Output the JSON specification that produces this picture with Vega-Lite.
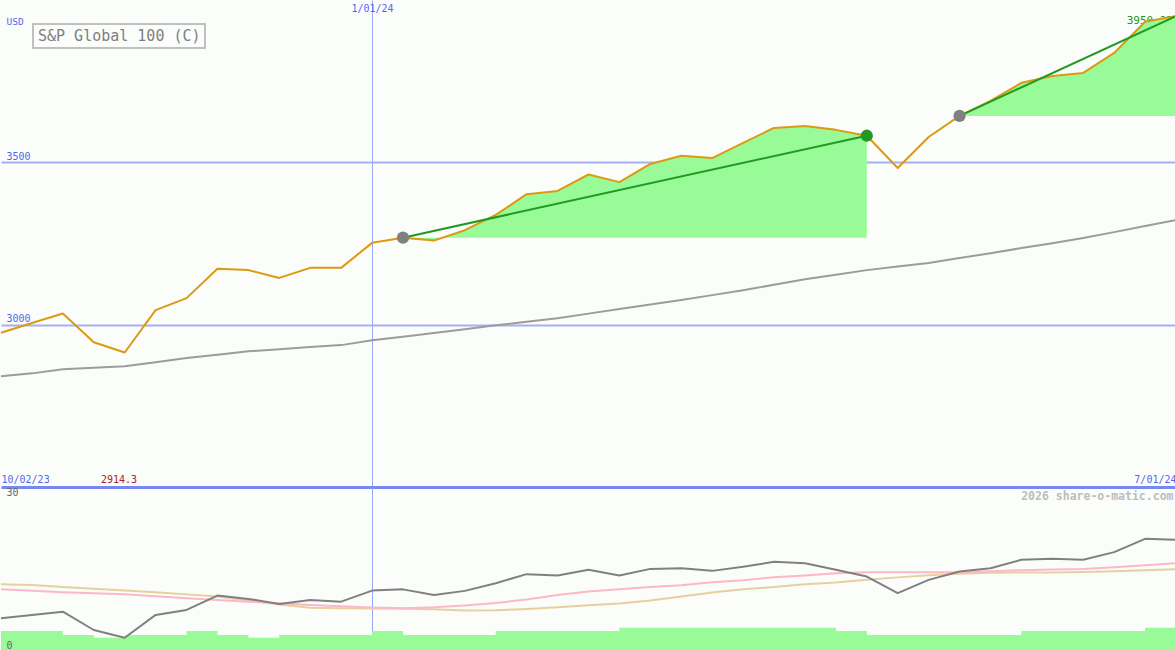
{
  "$schema": "https://vega.github.io/schema/vega-lite/v6.json",
  "background": "#fbfdfb",
  "padding": 0,
  "spacing": 0,
  "config": {
    "view": {"stroke": null},
    "concat": {"spacing": 0},
    "line": {"strokeJoin": "round", "clip": true},
    "axis": {"labelFont": "DejaVu Sans Mono", "titleFont": "DejaVu Sans Mono", "labelFontSize": 10, "titleFontSize": 10, "titleFontWeight": "normal"},
    "legend": {"labelFont": "DejaVu Sans Mono", "strokeColor": "#c0c0c0", "strokeWidth": 2}
  },
  "datasets": {
    "px": [
      {"i": 0, "close": 2975, "ma": 2841},
      {"i": 1, "close": 3005, "ma": 2850},
      {"i": 2, "close": 3034.5, "ma": 2863},
      {"i": 3, "close": 2946, "ma": 2867},
      {"i": 4, "close": 2914.3, "ma": 2872},
      {"i": 5, "close": 3044.7, "ma": 2884},
      {"i": 6, "close": 3081.7, "ma": 2897},
      {"i": 7, "close": 3172, "ma": 2907},
      {"i": 8, "close": 3168, "ma": 2918},
      {"i": 9, "close": 3144, "ma": 2924},
      {"i": 10, "close": 3175, "ma": 2931},
      {"i": 11, "close": 3175, "ma": 2937},
      {"i": 12, "close": 3252, "ma": 2952},
      {"i": 13, "close": 3268, "ma": 2963},
      {"i": 14, "close": 3259, "ma": 2974},
      {"i": 15, "close": 3291, "ma": 2986},
      {"i": 16, "close": 3338, "ma": 2998},
      {"i": 17, "close": 3402, "ma": 3009},
      {"i": 18, "close": 3412, "ma": 3020},
      {"i": 19, "close": 3462.5, "ma": 3034},
      {"i": 20, "close": 3439, "ma": 3048},
      {"i": 21, "close": 3495, "ma": 3062},
      {"i": 22, "close": 3520, "ma": 3076},
      {"i": 23, "close": 3513, "ma": 3091},
      {"i": 24, "close": 3560, "ma": 3106},
      {"i": 25, "close": 3606, "ma": 3123},
      {"i": 26, "close": 3612, "ma": 3140},
      {"i": 27, "close": 3600, "ma": 3154},
      {"i": 28, "close": 3582, "ma": 3168},
      {"i": 29, "close": 3482.6, "ma": 3179},
      {"i": 30, "close": 3578, "ma": 3190},
      {"i": 31, "close": 3643, "ma": 3205},
      {"i": 32, "close": 3689, "ma": 3220},
      {"i": 33, "close": 3745, "ma": 3236},
      {"i": 34, "close": 3766, "ma": 3251},
      {"i": 35, "close": 3775.5, "ma": 3267},
      {"i": 36, "close": 3837, "ma": 3285},
      {"i": 37, "close": 3933, "ma": 3304},
      {"i": 38, "close": 3950.27, "ma": 3322}
    ],
    "low": [
      {"i": 0, "bar": 3.54, "g": 5.90, "p": 11.30, "t": 12.23},
      {"i": 1, "bar": 3.54, "g": 6.52, "p": 11.02, "t": 12.07},
      {"i": 2, "bar": 2.79, "g": 7.13, "p": 10.74, "t": 11.73},
      {"i": 3, "bar": 2.29, "g": 3.72, "p": 10.56, "t": 11.40},
      {"i": 4, "bar": 2.79, "g": 2.29, "p": 10.37, "t": 11.08},
      {"i": 5, "bar": 2.79, "g": 6.52, "p": 10.00, "t": 10.74},
      {"i": 6, "bar": 3.54, "g": 7.45, "p": 9.63, "t": 10.34},
      {"i": 7, "bar": 2.79, "g": 10.11, "p": 9.31, "t": 9.96},
      {"i": 8, "bar": 2.29, "g": 9.50, "p": 8.99, "t": 9.18},
      {"i": 9, "bar": 2.79, "g": 8.57, "p": 8.70, "t": 8.44},
      {"i": 10, "bar": 2.79, "g": 9.31, "p": 8.38, "t": 7.86},
      {"i": 11, "bar": 2.79, "g": 8.99, "p": 8.14, "t": 7.75},
      {"i": 12, "bar": 3.54, "g": 11.04, "p": 7.88, "t": 7.71},
      {"i": 13, "bar": 2.79, "g": 11.27, "p": 7.78, "t": 7.67},
      {"i": 14, "bar": 2.79, "g": 10.24, "p": 7.95, "t": 7.58},
      {"i": 15, "bar": 2.79, "g": 10.99, "p": 8.25, "t": 7.36},
      {"i": 16, "bar": 3.54, "g": 12.42, "p": 8.75, "t": 7.37},
      {"i": 17, "bar": 3.54, "g": 14.10, "p": 9.37, "t": 7.64},
      {"i": 18, "bar": 3.54, "g": 13.84, "p": 10.24, "t": 7.95},
      {"i": 19, "bar": 3.54, "g": 14.90, "p": 10.86, "t": 8.31},
      {"i": 20, "bar": 4.15, "g": 13.84, "p": 11.30, "t": 8.64},
      {"i": 21, "bar": 4.15, "g": 15.08, "p": 11.73, "t": 9.22},
      {"i": 22, "bar": 4.15, "g": 15.21, "p": 12.05, "t": 9.96},
      {"i": 23, "bar": 4.15, "g": 14.71, "p": 12.61, "t": 10.67},
      {"i": 24, "bar": 4.15, "g": 15.46, "p": 12.98, "t": 11.30},
      {"i": 25, "bar": 4.15, "g": 16.39, "p": 13.54, "t": 11.69},
      {"i": 26, "bar": 4.15, "g": 16.11, "p": 13.87, "t": 12.22},
      {"i": 27, "bar": 3.54, "g": 14.90, "p": 14.28, "t": 12.55},
      {"i": 28, "bar": 2.79, "g": 13.65, "p": 14.47, "t": 13.04},
      {"i": 29, "bar": 2.79, "g": 10.56, "p": 14.43, "t": 13.50},
      {"i": 30, "bar": 2.79, "g": 13.04, "p": 14.47, "t": 13.91},
      {"i": 31, "bar": 2.79, "g": 14.58, "p": 14.47, "t": 14.19},
      {"i": 32, "bar": 2.79, "g": 15.21, "p": 14.62, "t": 14.36},
      {"i": 33, "bar": 3.54, "g": 16.76, "p": 14.84, "t": 14.39},
      {"i": 34, "bar": 3.54, "g": 16.95, "p": 14.95, "t": 14.39},
      {"i": 35, "bar": 3.54, "g": 16.76, "p": 15.08, "t": 14.49},
      {"i": 36, "bar": 3.54, "g": 18.19, "p": 15.36, "t": 14.66},
      {"i": 37, "bar": 4.15, "g": 20.67, "p": 15.74, "t": 14.84},
      {"i": 38, "bar": 4.15, "g": 20.48, "p": 16.15, "t": 15.03}
    ]
  },
  "vconcat": [
    {
      "width": 1175,
      "height": 487,
      "data": {"name": "px"},
      "resolve": {"axis": {"x": "independent", "y": "independent"}},
      "layer": [
        {
          "transform": [{"filter": "datum.i == 38"}],
          "mark": {"type": "text", "align": "right", "baseline": "middle", "dx": -3, "dy": 5, "font": "DejaVu Sans Mono", "fontSize": 11, "color": "#229922"},
          "encoding": {
            "x": {"field": "i", "type": "quantitative", "scale": {"domain": [0, 38], "nice": false, "zero": false},
              "axis": {"orient": "bottom", "values": [0, 3.8, 38], "title": null, "grid": false, "ticks": false, "tickSize": 0,
                "labelExpr": "datum.value == 0 ? '10/02/23' : datum.value == 38 ? '7/01/24' : '2914.3'",
                "labelFlush": true, "labelOverlap": false, "labelBaseline": "bottom", "labelPadding": -3,
                "labelColor": {"condition": {"test": "datum.value > 1 && datum.value < 10", "value": "#aa2222"}, "value": "#5566ee"},
                "domain": true, "domainColor": "#7788ee", "domainWidth": 3}},
            "y": {"field": "close", "type": "quantitative", "scale": {"domain": [2500, 4000], "nice": false, "zero": false},
              "axis": {"orient": "left", "values": [3000, 3500], "format": "d", "grid": true, "gridColor": "#a4b0f2", "gridWidth": 2,
                "ticks": false, "tickSize": 0, "domain": false, "labelAlign": "left", "labelPadding": -5, "labelBaseline": "bottom", "labelOffset": -1,
                "labelColor": "#5566ee", "title": "USD", "titleAngle": 0, "titleX": 5, "titleY": 21, "titleAlign": "left", "titleBaseline": "middle", "titleColor": "#5566ee", "titleFontSize": 9.5}},
            "text": {"field": "close", "type": "quantitative", "format": ".2f"}
          }
        },
        {
          "transform": [{"filter": "datum.i >= 13 && datum.i <= 28"}],
          "mark": {"type": "area", "color": "#98fb98", "opacity": 1},
          "encoding": {
            "x": {"field": "i", "type": "quantitative", "axis": null},
            "y": {"field": "close", "type": "quantitative", "axis": null},
            "y2": {"datum": 3268}
          }
        },
        {
          "transform": [{"filter": "datum.i >= 31"}],
          "mark": {"type": "area", "color": "#98fb98", "opacity": 1},
          "encoding": {
            "x": {"field": "i", "type": "quantitative", "axis": null},
            "y": {"field": "close", "type": "quantitative", "axis": null},
            "y2": {"datum": 3643}
          }
        },
        {
          "mark": {"type": "line", "color": "#9c9c9c", "strokeWidth": 2},
          "encoding": {
            "x": {"field": "i", "type": "quantitative",
              "axis": {"orient": "top", "values": [12], "title": null, "grid": true, "gridColor": "#98a6f6", "gridWidth": 1,
                "ticks": false, "tickSize": 0, "domain": false, "labelExpr": "'1/01/24'", "labelBaseline": "top", "labelPadding": -3,
                "labelColor": "#5566ee"}},
            "y": {"field": "ma", "type": "quantitative", "axis": null}
          }
        },
        {
          "mark": {"type": "line", "strokeWidth": 2},
          "encoding": {
            "x": {"field": "i", "type": "quantitative", "axis": null},
            "y": {"field": "close", "type": "quantitative", "axis": null},
            "color": {"datum": "S&P Global 100 (C)", "type": "nominal", "scale": {"range": ["#dd9911"]},
              "legend": {"orient": "none", "legendX": 32, "legendY": 24, "title": null,
                "padding": 4, "symbolSize": 0, "symbolStrokeWidth": 0, "symbolOpacity": 0, "labelOffset": -14, "labelLimit": 0,
                "labelFontSize": 15, "labelColor": "#808080", "labelFont": "DejaVu Sans Mono"}}
          }
        },
        {
          "transform": [{"filter": "datum.i == 13 || datum.i == 28"}],
          "mark": {"type": "line", "color": "#229922", "strokeWidth": 2},
          "encoding": {
            "x": {"field": "i", "type": "quantitative", "axis": null},
            "y": {"field": "close", "type": "quantitative", "axis": null}
          }
        },
        {
          "transform": [{"filter": "datum.i == 31 || datum.i == 38"}],
          "mark": {"type": "line", "color": "#229922", "strokeWidth": 2},
          "encoding": {
            "x": {"field": "i", "type": "quantitative", "axis": null},
            "y": {"field": "close", "type": "quantitative", "axis": null}
          }
        },
        {
          "transform": [{"filter": "datum.i == 13 || datum.i == 31"}],
          "mark": {"type": "point", "shape": "circle", "filled": true, "color": "#808080", "opacity": 1, "size": 150},
          "encoding": {
            "x": {"field": "i", "type": "quantitative", "axis": null},
            "y": {"field": "close", "type": "quantitative", "axis": null}
          }
        },
        {
          "transform": [{"filter": "datum.i == 28"}],
          "mark": {"type": "point", "shape": "circle", "filled": true, "color": "#229922", "opacity": 1, "size": 150},
          "encoding": {
            "x": {"field": "i", "type": "quantitative", "axis": null},
            "y": {"field": "close", "type": "quantitative", "axis": null}
          }
        }
      ]
    },
    {
      "width": 1175,
      "height": 163,
      "data": {"name": "low"},
      "resolve": {"axis": {"x": "independent", "y": "independent"}},
      "layer": [
        {
          "mark": {"type": "area", "interpolate": "step-after", "color": "#98fb98", "opacity": 1},
          "encoding": {
            "x": {"field": "i", "type": "quantitative", "scale": {"domain": [0, 38], "nice": false, "zero": false},
              "axis": {"orient": "top", "values": [12], "grid": true, "gridColor": "#98a6f6", "gridWidth": 1, "ticks": false, "tickSize": 0,
                "labels": false, "domain": false, "title": "2026 share-o-matic.com", "titleAnchor": "end", "titleAlign": "right",
                "titleX": 1172, "titleY": 3, "titleBaseline": "top", "titleColor": "#bdbdbd", "titleFontSize": 11.5, "titleFontWeight": "bold"}},
            "y": {"field": "bar", "type": "quantitative", "scale": {"domain": [0, 30.3], "nice": false},
              "axis": {"orient": "left", "values": [0, 30.3], "grid": false, "ticks": false, "tickSize": 0, "domain": false, "zindex": 1,
                "labelExpr": "datum.value > 1 ? '30' : '0'",
                "labelAlign": "left", "labelPadding": -5, "labelFlush": true, "labelOffset": 0, "labelColor": "#666666", "title": null}}
          }
        },
        {
          "mark": {"type": "line", "color": "#e6d0a0", "strokeWidth": 2},
          "encoding": {
            "x": {"field": "i", "type": "quantitative", "axis": null},
            "y": {"field": "t", "type": "quantitative", "axis": null}
          }
        },
        {
          "mark": {"type": "line", "color": "#ffb6c8", "strokeWidth": 2},
          "encoding": {
            "x": {"field": "i", "type": "quantitative", "axis": null},
            "y": {"field": "p", "type": "quantitative", "axis": null}
          }
        },
        {
          "mark": {"type": "line", "color": "#808080", "strokeWidth": 2},
          "encoding": {
            "x": {"field": "i", "type": "quantitative", "axis": null},
            "y": {"field": "g", "type": "quantitative", "axis": null}
          }
        }
      ]
    }
  ]
}
